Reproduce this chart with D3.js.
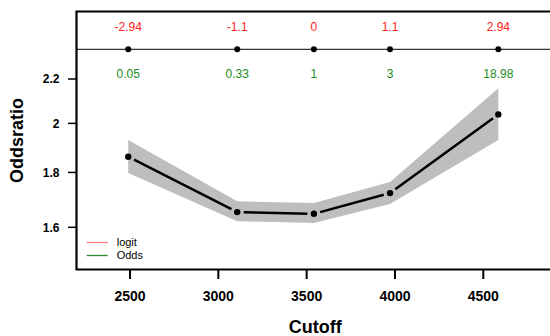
<!DOCTYPE html>
<html>
<head>
<meta charset="utf-8">
<script src="https://cdn.jsdelivr.net/npm/d3@7"></script>
<style>
html,body{margin:0;padding:0;background:#fff;}
svg{display:block;font-family:"Liberation Sans",Arial,Helvetica,sans-serif;}
</style>
</head>
<body>
<svg id="chart" width="550" height="336"></svg>
<script>
// ---- data ----
const cutoffs   = [2490, 3107, 3541, 3972, 4585];
const oddsratio = [1.862, 1.653, 1.647, 1.722, 2.039];
const ciLower   = [1.798, 1.621, 1.615, 1.682, 1.930];
const ciUpper   = [1.930, 1.692, 1.686, 1.763, 2.157];
const logitLabels = ["-2.94", "-1.1", "0", "1.1", "2.94"];
const oddsLabels  = ["0.05", "0.33", "1", "3", "18.98"];
const xTicks = [2500, 3000, 3500, 4000, 4500];
const yTicks = [1.6, 1.8, 2.0, 2.2];
const yTickLabels = ["1.6", "1.8", "2", "2.2"];
const legendItems = ["logit", "Odds"];

const svg = d3.select("#chart");
const plotLeft = 76.5, plotTop = 11.5, plotBottom = 269.5, plotRight = 560;

const x = d3.scaleLinear().domain([2500, 4500]).range([130, 483.3]);
const y = d3.scaleLog().domain([1.6, 2.2]).range([227.3, 79]);

// CI band
const band = cutoffs.map((c, i) => ({c, lo: ciLower[i], hi: ciUpper[i]}));
svg.append("path")
  .datum(band)
  .attr("fill", "#bebebe")
  .attr("d", d3.area().x(d => x(d.c)).y0(d => y(d.lo)).y1(d => y(d.hi)));

// line segments with gaps (type = "b")
const pts = cutoffs.map((c, i) => [x(c), y(oddsratio[i])]);
const gap = 6.5;
for (let i = 0; i < pts.length - 1; i++) {
  const [x0, y0] = pts[i], [x1, y1] = pts[i + 1];
  const len = Math.hypot(x1 - x0, y1 - y0);
  const ux = (x1 - x0) / len, uy = (y1 - y0) / len;
  svg.append("line")
    .attr("x1", x0 + ux * gap).attr("y1", y0 + uy * gap)
    .attr("x2", x1 - ux * gap).attr("y2", y1 - uy * gap)
    .attr("stroke", "#000").attr("stroke-width", 2.5);
}
svg.selectAll("circle.pt").data(pts).enter().append("circle")
  .attr("class", "pt")
  .attr("cx", d => d[0]).attr("cy", d => d[1]).attr("r", 3.2).attr("fill", "#000");

// reference line at top with dots and labels
const refY = 49.3;
svg.append("line").attr("x1", plotLeft).attr("x2", plotRight)
  .attr("y1", refY).attr("y2", refY).attr("stroke", "#000").attr("stroke-width", 1);
svg.selectAll("circle.ref").data(cutoffs).enter().append("circle")
  .attr("class", "ref")
  .attr("cx", d => x(d)).attr("cy", refY).attr("r", 3).attr("fill", "#000");
svg.selectAll("text.logit").data(cutoffs).enter().append("text")
  .attr("class", "logit")
  .attr("x", d => x(d)).attr("y", 31)
  .attr("text-anchor", "middle").attr("font-size", 12).attr("fill", "#ff2020")
  .text((d, i) => logitLabels[i]);
svg.selectAll("text.odds").data(cutoffs).enter().append("text")
  .attr("class", "odds")
  .attr("x", d => x(d)).attr("y", 77.5)
  .attr("text-anchor", "middle").attr("font-size", 12).attr("fill", "#228b22")
  .text((d, i) => oddsLabels[i]);

// plot frame (left, top, bottom)
svg.append("path")
  .attr("d", `M${plotRight},${plotTop}H${plotLeft}V${plotBottom}H${plotRight}`)
  .attr("fill", "none").attr("stroke", "#000").attr("stroke-width", 2.2);

// y axis ticks
yTicks.forEach((t, i) => {
  svg.append("line").attr("x1", 68).attr("x2", plotLeft)
    .attr("y1", y(t)).attr("y2", y(t)).attr("stroke", "#000").attr("stroke-width", 1.5);
  svg.append("text").attr("x", 59.5).attr("y", y(t) + 4.3)
    .attr("text-anchor", "end").attr("font-size", 12).attr("font-weight", "bold")
    .text(yTickLabels[i]);
});
// x axis ticks
xTicks.forEach(t => {
  svg.append("line").attr("x1", x(t)).attr("x2", x(t))
    .attr("y1", plotBottom).attr("y2", 279).attr("stroke", "#000").attr("stroke-width", 2);
  svg.append("text").attr("x", x(t)).attr("y", 300.7)
    .attr("text-anchor", "middle").attr("font-size", 14).attr("font-weight", "bold")
    .text(t);
});

// axis titles
svg.append("text").attr("x", 315.3).attr("y", 332.5)
  .attr("text-anchor", "middle").attr("font-size", 18).attr("font-weight", "bold")
  .text("Cutoff");
svg.append("text").attr("transform", "translate(23.3,140.5) rotate(-90)")
  .attr("text-anchor", "middle").attr("font-size", 18).attr("font-weight", "bold")
  .text("Oddsratio");

// legend
const legColors = ["#ff7f7f", "#2e8b2e"];
legendItems.forEach((name, i) => {
  const ly = 242.5 + i * 13;
  svg.append("line").attr("x1", 86.7).attr("x2", 107.7).attr("y1", ly).attr("y2", ly)
    .attr("stroke", legColors[i]).attr("stroke-width", 1.3);
  svg.append("text").attr("x", 116.7).attr("y", ly + 3.8)
    .attr("font-size", 11).attr("fill", "#000").text(name);
});
</script>
</body>
</html>
